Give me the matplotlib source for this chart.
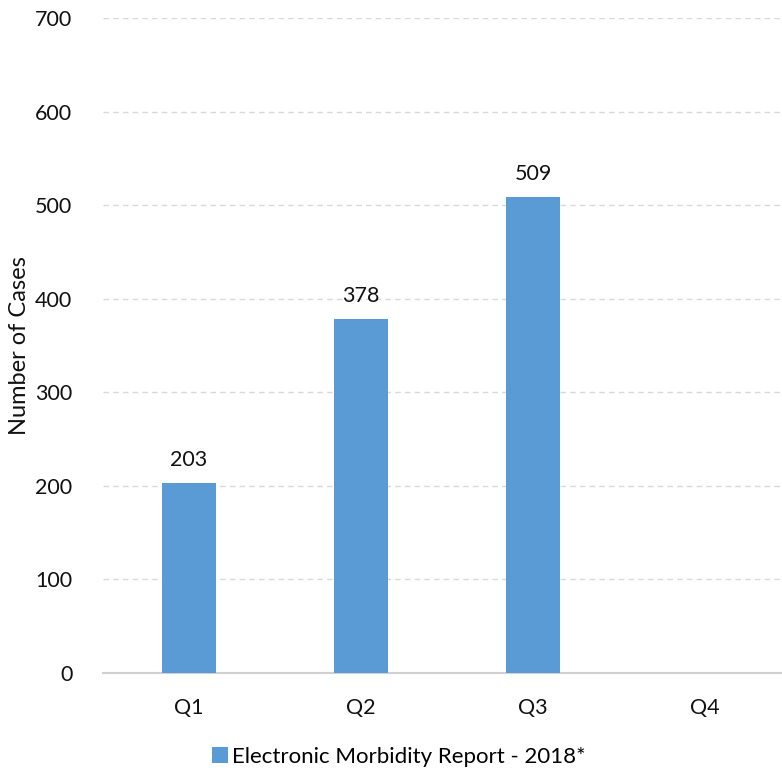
import matplotlib.pyplot as plt
import numpy as np

quarters = ["Q1", "Q2", "Q3", "Q4"]
cases = [203, 378, 509, np.nan]
series_name = "Electronic Morbidity Report - 2018*"

plt.rcParams["font.family"] = ["Lato", "DejaVu Sans"]

fig = plt.figure(figsize=(7.82, 7.7), dpi=100)
W, H = 782, 770
left, right, top, bottom = 103, 791, 18, 673
ax = fig.add_axes([left / W, 1 - bottom / H, (right - left) / W, (bottom - top) / H])

x = np.arange(len(quarters))
bars = ax.bar(x, cases, width=0.31, color="#5B9BD5", label=series_name, zorder=3)
for xi, v in zip(x, cases):
    if not np.isnan(v):
        ax.text(xi, v + 14, f"{v:.0f}", ha="center", va="bottom", fontsize=15.5, color="#111111")

ax.set_xlim(-0.5, 3.5)
ax.set_ylim(0, 700)
ax.set_yticks(range(0, 701, 100))
ax.set_xticks(x)
ax.set_xticklabels(quarters)
ax.tick_params(axis="both", length=0, labelsize=15.5, colors="#111111")
ax.tick_params(axis="x", pad=18)
ax.tick_params(axis="y", pad=22)
ax.grid(axis="y", color="#D9D9D9", linestyle=(0, (4, 3)), linewidth=1, zorder=0)
for s in ["left", "right", "top"]:
    ax.spines[s].set_visible(False)
ax.spines["bottom"].set_color("#D0D0D0")
ax.spines["bottom"].set_linewidth(1.5)
ax.set_ylabel("Number of Cases", fontsize=17, color="#111111", labelpad=4)

fig.legend(handles=[bars], labels=[series_name], loc="center", bbox_to_anchor=(399 / W, 1 - 757 / H),
           frameon=False, fontsize=16, handlelength=0.7, handleheight=0.7, handletextpad=0.2)

fig.savefig("out.png", dpi=100)
